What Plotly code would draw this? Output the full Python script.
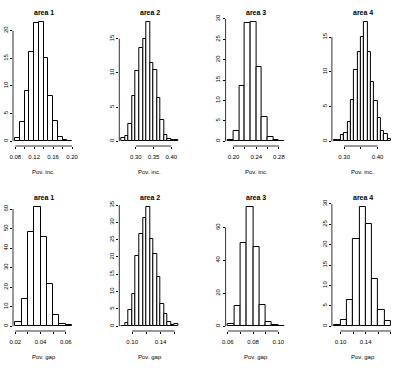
import plotly.graph_objects as go

W, H = 397, 370

# density values of each histogram bar
inc_area1 = [0.66, 3.4, 9.1, 16.1, 21.4, 21.6, 15.0, 8.2, 3.6, 0.85, 0.25, 0.1]
inc_area2 = [0.54, 0.74, 2.5, 6.6, 10.3, 13.7, 15.0, 17.5, 11.5, 10.4, 6.4, 3.1, 0.9, 0.3, 0.25, 0.25]
inc_area3 = [0.4, 2.5, 13.5, 28.9, 29.3, 18.2, 6.0, 1.0, 0.2, 0.1]
inc_area4 = [0.15, 0.15, 0.9, 1.2, 2.8, 6.0, 10.3, 12.9, 15.0, 17.2, 12.9, 8.6, 5.8, 3.3, 1.45, 1.0, 0.3]
gap_area1 = [2.2, 14.0, 48.3, 61.2, 45.8, 21.6, 5.8, 1.3, 0.4]
gap_area2 = [0.2, 0.8, 4.6, 9.2, 20.3, 26.7, 31.2, 34.5, 25.3, 21.0, 14.2, 6.4, 3.6, 1.1, 0.3, 0.6]
gap_area3 = [1.2, 12.0, 50.3, 72.6, 48.2, 12.9, 2.4, 0.5, 0.3]
gap_area4 = [0.25, 1.6, 6.4, 21.4, 29.3, 25.1, 11.6, 4.0, 1.2]

# first break and bin width of each histogram
inc_breaks = [(0.08, 0.01), (0.26, 0.01), (0.19, 0.01), (0.27, 0.01)]
gap_breaks = [(0.02, 0.005), (0.085, 0.005), (0.06, 0.005), (0.09, 0.01)]

# x ticks and the labels R kept (others dropped for overlap)
inc_xticks = [
    ([0.08, 0.10, 0.12, 0.14, 0.16, 0.18, 0.20], ["0.08", "", "0.12", "", "0.16", "", "0.20"]),
    ([0.30, 0.35, 0.40], ["0.30", "0.35", "0.40"]),
    ([0.20, 0.22, 0.24, 0.26, 0.28], ["0.20", "", "0.24", "", "0.28"]),
    ([0.30, 0.35, 0.40], ["0.30", "", "0.40"]),
]
gap_xticks = [
    ([0.02, 0.03, 0.04, 0.05, 0.06], ["0.02", "", "0.04", "", "0.06"]),
    ([0.10, 0.12, 0.14, 0.16], ["0.10", "", "0.14", ""]),
    ([0.06, 0.07, 0.08, 0.09, 0.10], ["0.06", "", "0.08", "", "0.10"]),
    ([0.10, 0.12, 0.14, 0.16, 0.18], ["0.10", "", "0.14", "", "0.18"]),
]
inc_yticks = [[0, 5, 10, 15, 20], [0, 5, 10, 15], [0, 5, 10, 15, 20, 25, 30], [0, 5, 10, 15]]
gap_yticks = [[0, 10, 20, 30, 40, 50, 60], [0, 5, 10, 15, 20, 25, 30, 35], [0, 20, 40, 60], [0, 5, 10, 15, 20, 25, 30]]

titles = ["area 1", "area 2", "area 3", "area 4"]
xlabels = ["Pov. inc.", "Pov. gap"]

panels = []
for k, d in enumerate([inc_area1, inc_area2, inc_area3, inc_area4]):
    panels.append((d, inc_breaks[k], inc_xticks[k], inc_yticks[k], titles[k], xlabels[0]))
for k, d in enumerate([gap_area1, gap_area2, gap_area3, gap_area4]):
    panels.append((d, gap_breaks[k], gap_xticks[k], gap_yticks[k], titles[k], xlabels[1]))

# plot regions in pixels
col_left = [13, 119.3, 225.6, 331.9]
plot_w = 61.3
row_top = [17, 202]
plot_h = 129

FONT = "Liberation Sans, Arial, sans-serif"
fig = go.Figure()
annotations = []
shapes = []
layout = {}

for i, (dens, (b0, bw), (xt, xl), yt, title, xlab) in enumerate(panels):
    n = i + 1
    sfx = "" if n == 1 else str(n)
    xa, ya = "x" + sfx, "y" + sfx
    centers = [b0 + bw * (j + 0.5) for j in range(len(dens))]
    b1 = b0 + bw * len(dens)

    fig.add_trace(go.Bar(
        x=centers, y=dens, width=bw, xaxis=xa, yaxis=ya,
        marker=dict(color="white", line=dict(color="black", width=1)),
        showlegend=False, hoverinfo="skip",
    ))

    row, col = divmod(i, 4)
    left = col_left[col]
    top = row_top[row]
    dx = [left / W, (left + plot_w) / W]
    dy = [1 - (top + plot_h) / H, 1 - top / H]
    pad = 0.04 * (b1 - b0)
    ymax = max(dens)

    tick_font = dict(family=FONT, size=6, color="black")
    layout["xaxis" + sfx] = dict(
        domain=dx, anchor=ya, range=[b0 - pad, b1 + pad], automargin=False,
        tickvals=xt, ticktext=xl, ticks="outside", ticklen=2, tickwidth=0.8,
        tickcolor="black", showgrid=False, zeroline=False, showline=False,
        tickfont=tick_font, ticklabelstandoff=3,
    )
    layout["yaxis" + sfx] = dict(
        domain=dy, anchor=xa, range=[-0.04 * ymax, 1.04 * ymax], automargin=False,
        tickvals=yt, ticktext=[str(v) for v in yt], ticks="outside", ticklen=2,
        tickwidth=0.8, tickcolor="black", showgrid=False, zeroline=False,
        showline=False, tickangle=-90, tickfont=tick_font, ticklabelstandoff=0,
    )

    # R style axis lines, from first to last tick
    shapes.append(dict(type="line", xref=xa, yref=ya + " domain", x0=xt[0], x1=xt[-1],
                       y0=0, y1=0, line=dict(color="black", width=0.8)))
    shapes.append(dict(type="line", xref=xa + " domain", yref=ya, x0=0, x1=0,
                       y0=yt[0], y1=yt[-1], line=dict(color="black", width=0.8)))

    cx = (left + plot_w / 2) / W
    annotations.append(dict(text="<b>" + title + "</b>", x=cx, y=1 - (top - 5) / H,
                            xref="paper", yref="paper", showarrow=False,
                            font=dict(family=FONT, size=7, color="black"),
                            xanchor="center", yanchor="middle"))
    annotations.append(dict(text=xlab, x=cx, y=1 - (top + plot_h + 26) / H,
                            xref="paper", yref="paper", showarrow=False,
                            font=dict(family=FONT, size=6, color="black"),
                            xanchor="center", yanchor="middle"))

fig.update_layout(
    width=W, height=H, margin=dict(l=0, r=0, t=0, b=0),
    paper_bgcolor="white", plot_bgcolor="white",
    bargap=0, annotations=annotations, shapes=shapes, **layout,
)

# drop the page's default body margin so the figure sits at the window corner
fig.write_html("out.html", config={"displayModeBar": False},
               post_script="document.body.style.margin='0';")
